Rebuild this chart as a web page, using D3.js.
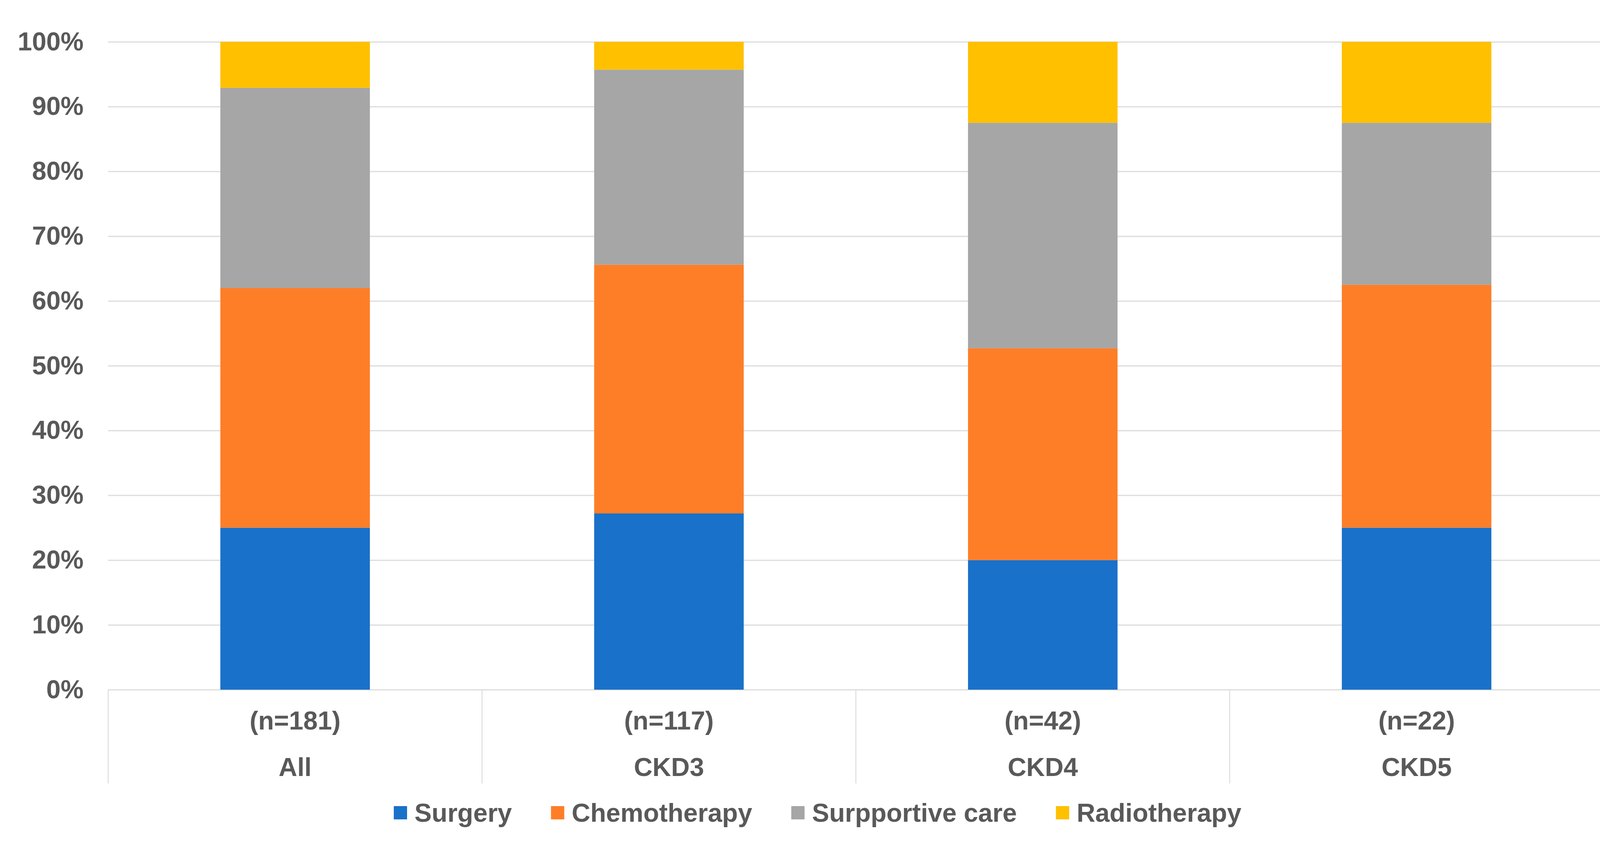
<!DOCTYPE html>
<html>
<head>
<meta charset="utf-8">
<script src="https://cdn.jsdelivr.net/npm/d3@7"></script>
<style>
  html, body { margin: 0; padding: 0; background: #fff; overflow: hidden; }
  svg { display: block; }
  svg text { font-family: "Liberation Sans", Arial, sans-serif; font-weight: bold; fill: #595959; }
</style>
</head>
<body>
<svg id="chart"></svg>
<script>
// data (percent of patients)
const groups = ['All', 'CKD3', 'CKD4', 'CKD5'];
const counts = ['(n=181)', '(n=117)', '(n=42)', '(n=22)'];
const treatments = ['Surgery', 'Chemotherapy', 'Surpportive care', 'Radiotherapy'];
const surgery = [25.0, 27.2, 20.0, 25.0];
const chemotherapy = [37.0, 38.4, 32.7, 37.5];
const supportive = [30.9, 30.1, 34.8, 25.0];
const radiotherapy = [7.1, 4.3, 12.5, 12.5];
const yTicks = [0, 10, 20, 30, 40, 50, 60, 70, 80, 90, 100];
const colors = ['#1971c9', '#fe7e28', '#a6a6a6', '#ffc000'];

const W = 4171, H = 2160;
const margin = { top: 107, right: 66, bottom: 395, left: 277 };

const svg = d3.select('#chart')
  .attr('width', W)
  .attr('height', H);

const x = d3.scaleBand()
  .domain(groups)
  .range([margin.left, W - margin.right])
  .padding(0);

const y = d3.scaleLinear()
  .domain([0, 100])
  .range([H - margin.bottom, margin.top]);

// gridlines + tick labels
const yAxis = svg.append('g')
  .attr('transform', `translate(${margin.left},0)`)
  .call(d3.axisLeft(y)
    .tickValues(yTicks)
    .tickSize(-(W - margin.left - margin.right))
    .tickPadding(63)
    .tickFormat(d => d + '%'));
yAxis.select('.domain').remove();
yAxis.selectAll('.tick line')
  .attr('stroke', '#dcdcdc')
  .attr('stroke-width', 3);
yAxis.selectAll('.tick text')
  .style('font-size', '66px')
  .attr('fill', '#595959');

// stacked bars
const rows = groups.map((g, i) => ({
  group: g,
  Surgery: surgery[i],
  Chemotherapy: chemotherapy[i],
  'Surpportive care': supportive[i],
  Radiotherapy: radiotherapy[i],
}));
const stack = d3.stack().keys(treatments)(rows);
const barW = x.bandwidth() * 0.4;

svg.append('g')
  .selectAll('g')
  .data(stack)
  .join('g')
  .attr('fill', (d, i) => colors[i])
  .selectAll('rect')
  .data(d => d)
  .join('rect')
  .attr('x', d => x(d.data.group) + (x.bandwidth() - barW) / 2)
  .attr('width', barW)
  .attr('y', d => y(d[1]))
  .attr('height', d => y(d[0]) - y(d[1]));

// category axis: separators and two-line labels
const y0 = y(0);
const sepBottom = 2005;
svg.append('g')
  .selectAll('line')
  .data(groups.map(g => x(g)).concat([x.range()[1]]))
  .join('line')
  .attr('x1', d => d).attr('x2', d => d)
  .attr('y1', y0).attr('y2', sepBottom)
  .attr('stroke', '#dcdcdc')
  .attr('stroke-width', 2.5);

const lab = svg.append('g')
  .selectAll('g')
  .data(groups)
  .join('g')
  .attr('transform', d => `translate(${x(d) + x.bandwidth() / 2},0)`);
lab.append('text')
  .attr('y', 1867)
  .attr('text-anchor', 'middle')
  .style('font-size', '66px')
  .text((d, i) => counts[i]);
lab.append('text')
  .attr('y', 1986)
  .attr('text-anchor', 'middle')
  .style('font-size', '66px')
  .text(d => d);

// legend
const sq = 34, gapText = 19, gapItem = 100;
const legend = svg.append('g');
const items = legend.selectAll('g')
  .data(treatments)
  .join('g');
items.append('rect')
  .attr('width', sq).attr('height', sq)
  .attr('y', 2063)
  .attr('fill', (d, i) => colors[i]);
items.append('text')
  .attr('x', sq + gapText)
  .attr('y', 2103)
  .style('font-size', '66px')
  .text(d => d);
let cx = 0;
items.each(function () {
  const w = sq + gapText + d3.select(this).select('text').node().getComputedTextLength();
  d3.select(this).attr('transform', `translate(${cx},0)`);
  cx += w + gapItem;
});
const total = cx - gapItem;
legend.attr('transform', `translate(${2093 - total / 2},0)`);
</script>
</body>
</html>
